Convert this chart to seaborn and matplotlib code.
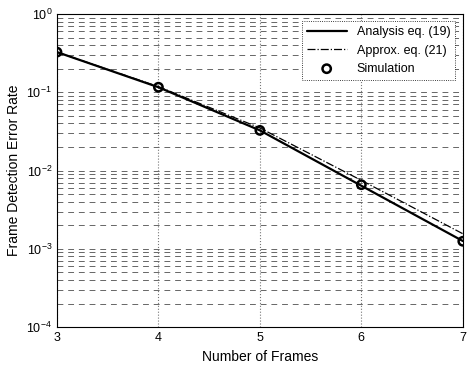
import numpy as np
import pandas as pd
import matplotlib
matplotlib.use("Agg")
import matplotlib.pyplot as plt
import seaborn as sns
from matplotlib.ticker import LogLocator

# Data
frames = [3, 4, 5, 6, 7]
analysis = [0.326, 0.116, 0.0326, 0.0064, 0.00126]
approx = [0.326, 0.118, 0.035, 0.0075, 0.00156]
simulation = [0.326, 0.116, 0.0326, 0.0066, 0.00125]

df = pd.DataFrame({"frames": frames, "analysis": analysis,
                   "approx": approx, "simulation": simulation})

sns.set_style("white")
plt.rcParams['font.family'] = ['Liberation Sans', 'DejaVu Sans']
plt.rcParams['text.color'] = 'black'
plt.rcParams['axes.labelcolor'] = 'black'
plt.rcParams['xtick.color'] = 'black'
plt.rcParams['ytick.color'] = 'black'

fig = plt.figure(figsize=(4.67, 3.68), dpi=100)
ax = fig.add_axes([0.122, 0.111, 0.869, 0.851])

sns.lineplot(data=df, x="frames", y="analysis", ax=ax, color="black",
             linewidth=1.6, label="Analysis eq. (19)")
sns.lineplot(data=df, x="frames", y="approx", ax=ax, color="black",
             linewidth=0.9, linestyle="-.", label="Approx. eq. (21)")
sns.scatterplot(data=df, x="frames", y="simulation", ax=ax, marker="o",
                s=36, facecolor="none", edgecolor="black", linewidth=1.8,
                label="Simulation", zorder=5)

ax.set_yscale("log")
ax.set_ylim(1e-4, 1)
ax.set_xlim(3, 7)
ax.set_xticks(frames)
ax.yaxis.set_major_locator(LogLocator(base=10, numticks=10))
ax.yaxis.set_minor_locator(LogLocator(base=10, subs=np.arange(2, 10), numticks=10))
ax.grid(True, which="major", axis="y", color="#666666", linestyle="--", linewidth=0.7, dashes=(6, 5))
ax.grid(True, which="minor", axis="y", color="#666666", linestyle="--", linewidth=0.7, dashes=(6, 5))
ax.grid(True, which="major", axis="x", color="#777777", linestyle=":", linewidth=0.8)
ax.tick_params(axis="both", which="major", labelsize=9, direction="in", length=3)
ax.tick_params(axis="y", which="minor", direction="in", length=2)
for s in ax.spines.values():
    s.set_color("black")
    s.set_linewidth(0.8)

ax.set_xlabel("Number of Frames", fontsize=10)
ax.set_ylabel("Frame Detection Error Rate", fontsize=10)

leg = ax.legend(loc="upper right", fontsize=9, frameon=True, fancybox=False,
                edgecolor="black", framealpha=1, handlelength=3.2,
                borderaxespad=0.6)
leg.get_frame().set_linewidth(0.6)
leg.get_frame().set_linestyle(":")

fig.savefig("out.png", dpi=100)
